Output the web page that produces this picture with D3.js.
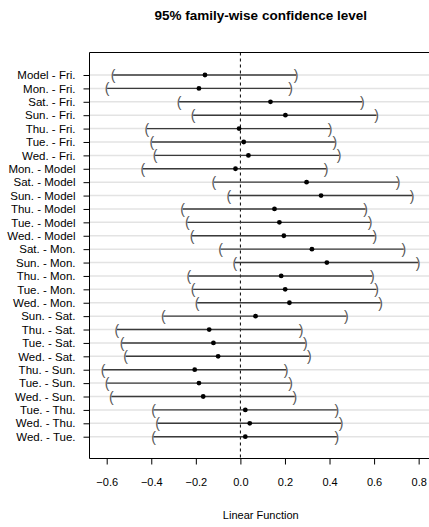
<!DOCTYPE html>
<html><head><meta charset="utf-8">
<script src="https://cdn.jsdelivr.net/npm/d3@7"></script>
<style>body{margin:0;background:#fff;} svg{display:block;font-family:"Liberation Sans",Arial,sans-serif;}</style>
</head><body>
<svg id="c" width="429" height="527"></svg>
<script>
const comparisons = ["Model - Fri.","Mon. - Fri.","Sat. - Fri.","Sun. - Fri.","Thu. - Fri.","Tue. - Fri.","Wed. - Fri.","Mon. - Model","Sat. - Model","Sun. - Model","Thu. - Model","Tue. - Model","Wed. - Model","Sat. - Mon.","Sun. - Mon.","Thu. - Mon.","Tue. - Mon.","Wed. - Mon.","Sun. - Sat.","Thu. - Sat.","Tue. - Sat.","Wed. - Sat.","Thu. - Sun.","Tue. - Sun.","Wed. - Sun.","Tue. - Thu.","Wed. - Thu.","Wed. - Tue."];
const estimate = [-0.159,-0.186,0.135,0.202,-0.006,0.015,0.036,-0.022,0.297,0.362,0.153,0.175,0.195,0.321,0.388,0.183,0.201,0.220,0.068,-0.140,-0.121,-0.100,-0.205,-0.186,-0.167,0.022,0.042,0.022];
const lower = [-0.571,-0.598,-0.275,-0.212,-0.420,-0.397,-0.383,-0.438,-0.119,-0.052,-0.259,-0.238,-0.217,-0.089,-0.025,-0.231,-0.212,-0.194,-0.346,-0.554,-0.531,-0.515,-0.616,-0.598,-0.579,-0.390,-0.372,-0.390];
const upper = [0.250,0.225,0.547,0.611,0.403,0.424,0.443,0.385,0.708,0.771,0.562,0.582,0.603,0.733,0.797,0.592,0.611,0.629,0.476,0.272,0.292,0.309,0.205,0.225,0.244,0.433,0.452,0.433];
const xTicks = [-0.6,-0.4,-0.2,0.0,0.2,0.4,0.6,0.8];
const title = "95% family-wise confidence level";
const xLabel = "Linear Function";

const svg = d3.select("#c");
const L = 89.5, T = 52.5, B = 458.5, R = 432;
const x = d3.scaleLinear().domain([-0.6772, 0.8599]).range([L, R]);
const y = d3.scalePoint().domain(comparisons).range([75, 436.7]);

// title
svg.append("text").attr("x", (L + R) / 2).attr("y", 19.5).attr("text-anchor", "middle")
  .attr("font-weight", "bold").attr("font-size", "13.5px").attr("fill", "#000").text(title);

svg.append("defs").append("clipPath").attr("id", "pc")
  .append("rect").attr("x", L).attr("y", T).attr("width", R - L).attr("height", B - T);
const g = svg.append("g").attr("clip-path", "url(#pc)");

// grid lines
g.selectAll("line.grid").data(comparisons).join("line")
  .attr("x1", L).attr("x2", R).attr("y1", d => y(d)).attr("y2", d => y(d))
  .attr("stroke", "#e3e3e3").attr("stroke-width", 1.5);

// zero line
g.append("line").attr("x1", x(0)).attr("x2", x(0)).attr("y1", T).attr("y2", B)
  .attr("stroke", "#000").attr("stroke-width", 1).attr("stroke-dasharray", "3,3");

// intervals
g.selectAll("line.ci").data(comparisons).join("line")
  .attr("x1", (d, i) => x(lower[i])).attr("x2", (d, i) => x(upper[i]))
  .attr("y1", d => y(d)).attr("y2", d => y(d))
  .attr("stroke", "#3a3a3a").attr("stroke-width", 1.4);

g.selectAll("text.lb").data(comparisons).join("text")
  .attr("x", (d, i) => x(lower[i])).attr("y", d => y(d) + 5)
  .attr("text-anchor", "middle").attr("font-size", "14px").attr("fill", "#555").text("(");
g.selectAll("text.ub").data(comparisons).join("text")
  .attr("x", (d, i) => x(upper[i])).attr("y", d => y(d) + 5)
  .attr("text-anchor", "middle").attr("font-size", "14px").attr("fill", "#555").text(")");

g.selectAll("circle").data(comparisons).join("circle")
  .attr("cx", (d, i) => x(estimate[i])).attr("cy", d => y(d)).attr("r", 2.4).attr("fill", "#000");

// box
svg.append("path").attr("d", `M${R + 5},${T}H${L}V${B}H${R + 5}`)
  .attr("fill", "none").attr("stroke", "#000").attr("stroke-width", 1);

// x axis
const xa = svg.append("g").attr("transform", `translate(0,${B})`)
  .call(d3.axisBottom(x).tickValues(xTicks).tickFormat(d3.format(".1f")).tickSize(6).tickPadding(14));
xa.select(".domain").remove();
xa.selectAll("text").attr("font-size", "11px").attr("font-family", "Liberation Sans, Arial, sans-serif").attr("fill", "#000");
xa.selectAll("line").attr("stroke", "#000");

// y axis
const ya = svg.append("g").attr("transform", `translate(${L},0)`)
  .call(d3.axisLeft(y).tickSize(6).tickPadding(8));
ya.select(".domain").remove();
ya.selectAll("text").attr("font-size", "11.5px").attr("font-family", "Liberation Sans, Arial, sans-serif").attr("fill", "#000");
ya.selectAll("line").attr("stroke", "#000");

svg.append("text").attr("x", (L + R) / 2).attr("y", 519).attr("text-anchor", "middle")
  .attr("font-size", "11px").attr("fill", "#000").text(xLabel);
</script>
</body></html>
